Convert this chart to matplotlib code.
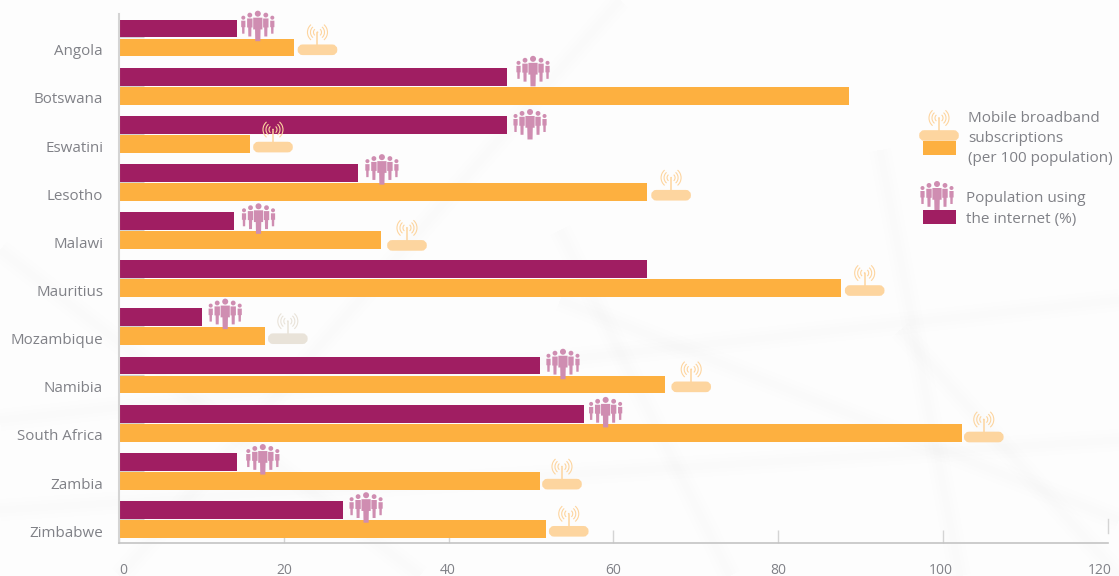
import matplotlib

matplotlib.use('Agg')

import matplotlib.pyplot as plt
from matplotlib.patches import Arc, Circle, FancyBboxPatch, Polygon, Rectangle

countries = ['Angola', 'Botswana', 'Eswatini', 'Lesotho', 'Malawi', 'Mauritius',
             'Mozambique', 'Namibia', 'South Africa', 'Zambia', 'Zimbabwe']
internet_pct = [14.3, 47.1, 47.1, 29.0, 13.9, 64.1, 10.1, 51.1, 56.4, 14.3, 27.2]
broadband_per_100 = [21.3, 88.6, 15.9, 64.1, 31.8, 87.6, 17.7, 66.3, 102.3, 51.1, 51.8]
x_ticks = [0, 20, 40, 60, 80, 100]
x_tick_labels = ['0', '20', '40', '60', '80', '100', '120']

PURPLE = '#a01e62'
ORANGE = '#fdb040'
PEOPLE = '#cf8db1'
ROUTER = '#fdd59f'
TEXT = '#808187'

W, H = 1119, 576
plt.rcParams['font.family'] = ['Open Sans', 'DejaVu Sans']

fig = plt.figure(figsize=(W / 100, H / 100), dpi=100, facecolor='#fdfdfd')

# faint background texture
bg = fig.add_axes([0, 0, 1, 1], zorder=0)
bg.set_xlim(0, W)
bg.set_ylim(H, 0)
bg.axis('off')
faint_lines = [((0, 420), (1119, 300)), ((0, 510), (1119, 440)), ((120, 576), (620, 0)),
               ((730, 576), (560, 230)), ((960, 576), (880, 150)), ((1119, 576), (900, 330)),
               ((0, 250), (420, 576)), ((560, 300), (1119, 520))]
for p0, p1 in faint_lines:
    for lw, alpha in [(16, 0.002), (10, 0.003), (5, 0.004)]:
        bg.plot([p0[0], p1[0]], [p0[1], p1[1]], color='#777777', lw=lw, alpha=alpha,
                solid_capstyle='butt')

# main bars
ax = fig.add_axes([119 / W, 1 - 543 / H, (1107.6 - 119) / W, (543 - 14) / H], zorder=1)
ax.patch.set_alpha(0)
rows = list(range(len(countries)))
ax.hlines([r - 0.01 for r in rows], 0, 3, color='#d4d4d4', lw=1, zorder=1)
ax.barh([r - 0.197 for r in rows], internet_pct, height=0.37, color=PURPLE, zorder=2)
ax.barh([r + 0.197 for r in rows], broadband_per_100, height=0.37, color=ORANGE, zorder=2)

ax.set_xlim(0, 120)
ax.set_ylim(10.488, -0.498)
ax.set_yticks([r + 0.245 for r in rows], countries)
ax.tick_params(axis='y', length=0, pad=11.5, labelsize=10.9, labelcolor=TEXT)
ax.set_xticks(x_ticks, [''] * len(x_ticks))
ax.tick_params(axis='x', direction='in', length=9.4, width=1, color='#d4d4d4', pad=0)
for side in ['top', 'right']:
    ax.spines[side].set_visible(False)
ax.spines['left'].set_color('#d4d4d4')
ax.spines['left'].set_linewidth(1.5)
ax.spines['bottom'].set_color('#c4c4c4')
ax.spines['bottom'].set_linewidth(1.2)

# overlay in pixel coordinates for the icons and legend
ov = fig.add_axes([0, 0, 1, 1], zorder=2)
ov.set_xlim(0, W)
ov.set_ylim(H, 0)
ov.axis('off')
ov.patch.set_alpha(0)


def draw_figure(cx, top, head_r, half_w, height):
    # one person: head, shoulders tapering into legs
    ov.add_patch(Circle((cx, top + head_r), head_r, color=PEOPLE, lw=0))
    y0 = top + 2 * head_r + 1
    ov.add_patch(Polygon([(cx - half_w, y0), (cx + half_w, y0), (cx + half_w, y0 + height * 0.5),
                          (cx + half_w * 0.6, y0 + height * 0.5), (cx + half_w * 0.55, y0 + height),
                          (cx - half_w * 0.55, y0 + height), (cx - half_w * 0.6, y0 + height * 0.5),
                          (cx - half_w, y0 + height * 0.5)],
                         closed=True, color=PEOPLE, lw=0, joinstyle='round'))


def draw_people(cx, top):
    for dx in [-14.5, 14.5]:
        draw_figure(cx + dx, top + 5, 2, 2.1, 13)
    for dx in [-8, 8]:
        draw_figure(cx + dx, top + 2, 2.4, 2.7, 18)
    draw_figure(cx, top, 3, 4.6, 23.5)


def draw_router(cx, top, color=ROUTER):
    ov.add_patch(FancyBboxPatch((cx - 16, top + 24), 32, 3, boxstyle='round,pad=0,rounding_size=1.5',
                                color=color, lw=5.5, capstyle='round'))
    ov.plot([cx, cx], [top + 9, top + 22], color=color, lw=1.1)
    ov.add_patch(Circle((cx, top + 8), 0.9, color=color, lw=0))
    for r in [4, 7, 10]:
        ov.add_patch(Arc((cx, top + 8), 2 * r, 2 * r, theta1=130, theta2=230, color=color, lw=0.8))
        ov.add_patch(Arc((cx, top + 8), 2 * r, 2 * r, theta1=-50, theta2=50, color=color, lw=0.8))


def to_px(value, row_y):
    x, y = ax.transData.transform((value, row_y))
    return x, H - y


# how far each icon sits from its bar end, px
people_shift = [21, 26, 23, 24, 25, None, 23, 23, 22, 26, 23]
people_rise = [9, 12, 7, 10, 9, 0, 10, 8, 8, 9, 9]
router_shift = [23, None, 23, 24, 26, 24, 23, 26, 22, 22, 23]
router_rise = [32, 0, 31, 31, 29, 32, 32, 32, 30, 31, 32]
for i in rows:
    if people_shift[i] is not None:
        x, y = to_px(internet_pct[i], i - 0.38)
        draw_people(x + people_shift[i], y - people_rise[i])
    if router_shift[i] is not None:
        x, y = to_px(broadband_per_100[i], i + 0.38)
        color = '#e9e3d9' if countries[i] == 'Mozambique' else ROUTER
        draw_router(x + router_shift[i], y - router_rise[i], color)

# x tick labels sit at their own nudged spots in the original
label_x = [123.5, 284, 448, 613, 778, 941, 1100]
for lx, lab in zip(label_x, x_tick_labels):
    ov.text(lx, 570, lab, ha='center', va='center', fontsize=10, color=TEXT)
ov.plot([1107.5, 1107.5], [519, 533], color='#d4d4d4', lw=1)

# legend
draw_router(939, 110)
ov.add_patch(Rectangle((923, 141), 33, 14, color=ORANGE, lw=0, zorder=1))
draw_people(937, 181)
ov.add_patch(Rectangle((923, 210), 33, 14, color=PURPLE, lw=0, zorder=3))
for tx, ty, s in [(968, 118, 'Mobile broadband'), (968, 139, 'subscriptions'),
                  (968, 159, '(per 100 population)'), (966, 199, 'Population using'),
                  (966, 219, 'the internet (%)')]:
    ov.text(tx, ty, s, ha='left', va='center', fontsize=11, color=TEXT)

fig.savefig('out.png', dpi=100, facecolor=fig.get_facecolor())
plt.close(fig)
